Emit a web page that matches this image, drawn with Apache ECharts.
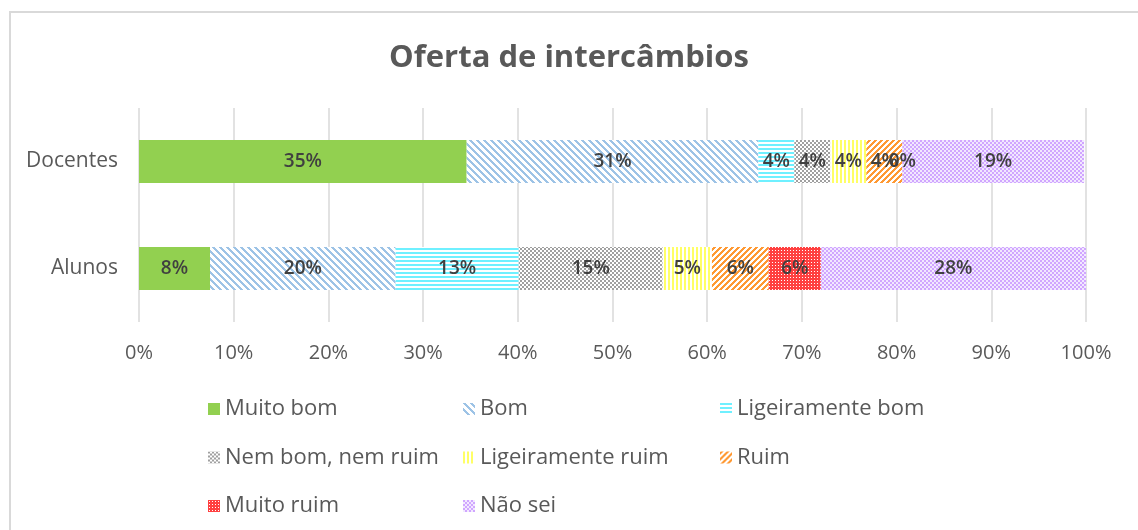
<!DOCTYPE html>
<html>
<head>
<meta charset="utf-8">
<script src="https://cdn.jsdelivr.net/npm/echarts@6/dist/echarts.min.js"></script>
<style>
html,body{margin:0;padding:0;background:#fff;}
#chart{width:1138px;height:530px;}
</style>
</head>
<body>
<div id="chart"></div>
<script>
const categories = ['Docentes', 'Alunos'];
const seriesNames = ['Muito bom', 'Bom', 'Ligeiramente bom', 'Nem bom, nem ruim', 'Ligeiramente ruim', 'Ruim', 'Muito ruim', 'Não sei'];
const muitoBom = [34.6, 7.5];
const bom = [30.8, 19.6];
const ligeiramenteBom = [3.8, 13.0];
const nemBomNemRuim = [3.8, 15.2];
const ligeiramenteRuim = [3.8, 5.2];
const ruim = [3.8, 6.0];
const muitoRuim = [0, 5.5];
const naoSei = [19.2, 28.0];
const xTicks = [0, 10, 20, 30, 40, 50, 60, 70, 80, 90, 100];

const seriesValues = [muitoBom, bom, ligeiramenteBom, nemBomNemRuim, ligeiramenteRuim, ruim, muitoRuim, naoSei];

function makePattern(w, h, fn) {
  const c = document.createElement('canvas');
  c.width = w; c.height = h;
  const ctx = c.getContext('2d');
  for (let y = 0; y < h; y++) {
    for (let x = 0; x < w; x++) {
      ctx.fillStyle = fn(x, y);
      ctx.fillRect(x, y, 1, 1);
    }
  }
  return { image: c, repeat: 'repeat' };
}
const W = '#ffffff';
const fills = [
  '#92D050',
  makePattern(7, 7, (x, y) => ((x - y + 70) % 7) < 3 ? '#9DC3E6' : W),
  makePattern(4, 4, (x, y) => (y % 4) < 2 ? '#6FF0FF' : W),
  makePattern(4, 4, (x, y) => ((Math.floor(x / 2) + Math.floor(y / 2)) % 2 === 0) ? '#A0A0A0' : W),
  makePattern(4, 4, (x, y) => (x % 4) < 2 ? '#FFFF66' : W),
  makePattern(6, 6, (x, y) => ((x + y) % 6) < 3 ? '#FF9933' : W),
  makePattern(3, 3, (x, y) => (x % 3 === 1 && y % 3 === 1) ? '#FFFFFF' : '#FF4040'),
  makePattern(4, 4, (x, y) => ((Math.floor(x / 2) + Math.floor(y / 2)) % 2 === 0) ? '#D0A6FF' : '#F2E8FF')
];

const FONT = 'Open Sans';
const series = seriesNames.map((name, i) => ({
  name: name,
  type: 'bar',
  stack: 'total',
  barWidth: 43,
  data: seriesValues[i],
  itemStyle: { color: fills[i] },
  label: {
    show: true,
    position: 'inside',
    color: '#404040',
    fontFamily: FONT,
    fontSize: 19,
    fontWeight: 600,
    formatter: p => Math.round(p.value) + '%'
  },
  emphasis: { disabled: true }
}));

const legendBase = {
  orient: 'vertical',
  top: 392,
  itemWidth: 12,
  itemHeight: 12,
  itemGap: 24.5,
  icon: 'rect',
  selectedMode: false,
  textStyle: { fontFamily: FONT, fontSize: 22, color: '#595959', lineHeight: 24, padding: [0, 0, 0, 0] }
};

const chart = echarts.init(document.getElementById('chart'), null, { renderer: 'canvas' });
chart.setOption({
  animation: false,
  backgroundColor: '#ffffff',
  title: {
    text: 'Oferta de intercâmbios',
    left: 'center',
    top: 38,
    textStyle: { fontFamily: FONT, fontSize: 31, fontWeight: 'bold', color: '#595959' }
  },
  graphic: [{
    type: 'rect',
    shape: { x: 10, y: 12, width: 1200, height: 600 },
    style: { fill: 'none', stroke: '#D9D9D9', lineWidth: 2 },
    silent: true
  }],
  legend: [
    Object.assign({}, legendBase, { left: 203, data: [seriesNames[0], seriesNames[3], seriesNames[6]] }),
    Object.assign({}, legendBase, { left: 458, data: [seriesNames[1], seriesNames[4], seriesNames[7]] }),
    Object.assign({}, legendBase, { left: 715, data: [seriesNames[2], seriesNames[5]] })
  ],
  grid: { left: 139, right: 52, top: 108, bottom: 208, containLabel: false },
  xAxis: {
    type: 'value',
    min: xTicks[0],
    max: xTicks[xTicks.length - 1],
    interval: xTicks[1] - xTicks[0],
    axisLine: { show: false },
    axisTick: { show: false },
    splitLine: { show: true, lineStyle: { color: '#D9D9D9', width: 1.5 } },
    axisLabel: { margin: 21, fontFamily: FONT, fontSize: 20, color: '#595959', formatter: '{value}%' }
  },
  yAxis: {
    type: 'category',
    inverse: true,
    data: categories,
    axisLine: { show: false },
    axisTick: { show: false },
    axisLabel: { margin: 21, fontFamily: FONT, fontSize: 21, color: '#595959', padding: [3, 0, 0, 0] }
  },
  series: series
});
</script>
</body>
</html>
